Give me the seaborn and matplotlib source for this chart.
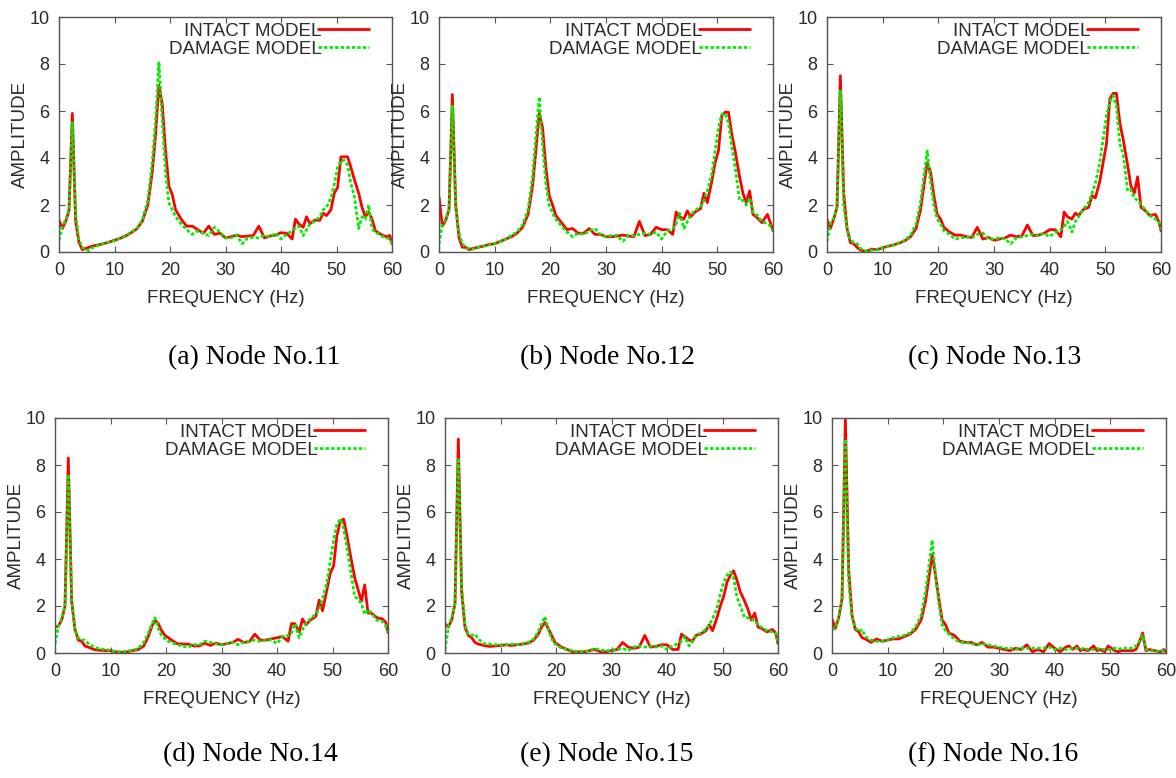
import matplotlib
matplotlib.use("Agg")
import matplotlib.pyplot as plt
import seaborn as sns
import pandas as pd

# Shared frequency grid (Hz)
freq = [0, 0.6, 1.2, 1.8, 2.4, 3.0, 3.6, 4.2, 4.8, 5.4,
        6, 7, 8, 9, 10, 11, 12, 13, 14, 15, 16,
        16.8, 17.4, 18.0, 18.6, 19.2, 19.8, 20.4,
        21, 22, 23, 24, 25, 26, 27, 28, 29, 30, 31, 32, 33, 34, 35, 36, 37, 38, 39, 40, 41, 42,
        42.6, 43.2, 44, 44.6, 45.2, 46, 47, 47.6, 48.2, 49, 49.6, 50.2, 50.8, 51.4, 52.0, 52.6, 53.2,
        54, 54.6, 55.2, 55.8, 56.4, 57, 58, 59, 59.6, 60]

# Node No.11
intact_11 = [1.35, 1.0, 1.3, 1.75, 5.9, 1.3, 0.4, 0.1, 0.15, 0.2,
             0.25, 0.3, 0.35, 0.42, 0.5, 0.58, 0.68, 0.82, 0.98, 1.3, 2.0,
             3.4, 5.0, 7.1, 6.3, 4.3, 2.8, 2.45,
             1.8, 1.4, 1.1, 1.1, 0.95, 0.8, 1.1, 0.75, 0.8, 0.6, 0.65, 0.72, 0.65, 0.68, 0.7, 1.1, 0.6, 0.68, 0.72, 0.82, 0.8, 0.55,
             1.4, 1.2, 1.05, 1.5, 1.2, 1.35, 1.35, 1.65, 1.55, 1.8, 2.5, 2.75, 4.05, 4.05, 4.05, 3.6, 3.1,
             2.5, 1.9, 1.5, 1.7, 1.4, 0.9, 0.75, 0.65, 0.7, 0.35]
damage_11 = [0.5, 1.1, 1.35, 1.8, 5.5, 1.6, 0.5, 0.2, 0.1, 0.05,
             0.18, 0.28, 0.35, 0.42, 0.48, 0.6, 0.7, 0.85, 1.0, 1.35, 2.2,
             3.8, 5.6, 8.1, 5.6, 3.4, 2.1, 1.8,
             1.5, 1.2, 0.95, 0.75, 0.9, 0.8, 0.7, 1.05, 0.85, 0.6, 0.6, 0.72, 0.35, 0.6, 0.62, 0.6, 0.7, 0.65, 0.8, 0.55, 0.75, 0.9,
             1.0, 1.1, 0.7, 0.95, 1.2, 1.3, 1.5, 1.8, 1.9, 2.3, 2.9, 3.6, 3.9, 3.9, 3.7, 2.9, 2.4,
             1.0, 1.5, 1.4, 2.0, 1.0, 0.85, 0.7, 0.6, 0.55, 0.35]

# Node No.12
intact_12 = [2.35, 1.1, 1.35, 1.8, 6.7, 2.0, 0.6, 0.2, 0.2, 0.1,
             0.15, 0.2, 0.25, 0.32, 0.35, 0.45, 0.55, 0.65, 0.8, 1.05, 1.6,
             2.8, 4.3, 5.9, 5.3, 3.6, 2.4, 2.0,
             1.55, 1.25, 0.95, 1.0, 0.8, 0.8, 1.0, 0.75, 0.75, 0.65, 0.65, 0.68, 0.72, 0.68, 0.65, 1.3, 0.7, 0.75, 1.05, 0.95, 0.95, 0.75,
             1.7, 1.5, 1.4, 1.75, 1.5, 1.7, 1.85, 2.5, 2.1, 3.0, 3.8, 4.3, 5.8, 5.95, 5.95, 5.0, 4.3,
             3.2, 2.5, 2.1, 2.6, 1.6, 1.5, 1.25, 1.6, 1.2, 0.9]
damage_12 = [0.35, 1.2, 1.4, 1.8, 6.2, 1.9, 0.8, 0.35, 0.2, 0.15,
             0.12, 0.2, 0.25, 0.3, 0.35, 0.45, 0.55, 0.7, 0.85, 1.15, 1.8,
             3.2, 4.9, 6.6, 4.6, 2.9, 2.0, 1.65,
             1.4, 1.1, 0.85, 0.65, 0.8, 0.75, 0.9, 1.0, 0.75, 0.65, 0.7, 0.7, 0.45, 0.7, 0.7, 0.75, 0.8, 0.75, 0.85, 0.55, 0.9, 1.0,
             1.2, 1.65, 1.0, 1.3, 1.6, 1.75, 1.95, 2.2, 2.6, 3.3, 4.3, 5.3, 5.85, 5.9, 5.5, 4.5, 3.6,
             2.2, 2.2, 2.0, 2.3, 1.7, 1.6, 1.3, 1.2, 1.1, 0.9]

# Node No.13
intact_13 = [1.4, 1.0, 1.4, 1.9, 7.5, 2.5, 1.0, 0.4, 0.35, 0.2,
             0.08, 0.02, 0.12, 0.1, 0.18, 0.25, 0.3, 0.38, 0.48, 0.65, 1.0,
             1.8, 2.8, 3.8, 3.4, 2.4, 1.6, 1.4,
             1.05, 0.85, 0.72, 0.72, 0.65, 0.62, 1.05, 0.55, 0.62, 0.5, 0.55, 0.6, 0.72, 0.65, 0.68, 1.15, 0.7, 0.72, 0.8, 0.95, 0.95, 0.65,
             1.7, 1.5, 1.4, 1.65, 1.55, 1.8, 1.9, 2.4, 2.3, 3.0, 3.8, 4.6, 6.5, 6.75, 6.75, 5.5, 4.8,
             3.7, 2.8, 2.5, 3.2, 1.9, 1.8, 1.55, 1.6, 1.3, 0.9]
damage_13 = [0.45, 1.2, 1.45, 1.9, 6.9, 2.0, 1.0, 0.5, 0.4, 0.35,
             0.15, 0.05, 0.08, 0.1, 0.18, 0.25, 0.3, 0.4, 0.5, 0.7, 1.2,
             2.1, 3.2, 4.3, 3.0, 2.0, 1.4, 1.2,
             0.9, 0.75, 0.55, 0.6, 0.65, 0.6, 0.75, 0.8, 0.55, 0.55, 0.6, 0.55, 0.35, 0.6, 0.65, 0.7, 0.75, 0.7, 0.8, 0.65, 0.85, 0.95,
             1.1, 1.3, 0.85, 1.3, 1.5, 1.8, 2.1, 2.5, 2.9, 3.8, 4.8, 5.8, 6.4, 6.65, 6.2, 4.6, 4.2,
             2.6, 2.65, 2.3, 2.2, 2.0, 1.85, 1.55, 1.4, 1.3, 0.95]

# Node No.14
intact_14 = [1.1, 1.15, 1.4, 2.0, 8.3, 2.2, 1.0, 0.55, 0.5, 0.3,
             0.25, 0.15, 0.12, 0.1, 0.1, 0.05, 0.03, 0.05, 0.1, 0.15, 0.3,
             0.7, 1.1, 1.4, 1.25, 0.95, 0.75, 0.65,
             0.55, 0.4, 0.38, 0.38, 0.3, 0.3, 0.42, 0.32, 0.42, 0.35, 0.4, 0.45, 0.58, 0.45, 0.48, 0.8, 0.55, 0.55, 0.6, 0.65, 0.7, 0.5,
             1.25, 1.25, 0.9, 1.45, 1.2, 1.4, 1.55, 2.25, 1.8, 2.7, 3.4, 3.7, 5.0, 5.6, 5.7, 5.0, 4.2,
             3.2, 2.7, 2.2, 2.9, 1.7, 1.7, 1.5, 1.45, 1.3, 0.87]
damage_14 = [0.4, 1.1, 1.5, 2.0, 7.6, 2.3, 1.0, 0.65, 0.55, 0.55,
             0.4, 0.25, 0.18, 0.15, 0.12, 0.05, 0.05, 0.08, 0.12, 0.2, 0.45,
             0.85, 1.2, 1.5, 1.05, 0.75, 0.6, 0.5,
             0.45, 0.35, 0.3, 0.25, 0.35, 0.35, 0.5, 0.45, 0.38, 0.35, 0.4, 0.45, 0.35, 0.45, 0.5, 0.55, 0.5, 0.55, 0.55, 0.4, 0.7, 0.75,
             0.85, 1.25, 0.65, 1.0, 1.25, 1.45, 1.65, 1.85, 2.3, 3.0, 3.9, 4.8, 5.5, 5.7, 5.3, 4.5, 3.6,
             2.4, 2.3, 2.1, 1.65, 1.85, 1.7, 1.4, 1.35, 1.15, 0.9]

# Node No.15
intact_15 = [1.25, 1.1, 1.4, 2.1, 9.1, 2.6, 1.1, 0.75, 0.65, 0.45,
             0.38, 0.32, 0.28, 0.3, 0.32, 0.35, 0.32, 0.35, 0.38, 0.42, 0.55,
             0.8, 1.1, 1.3, 1.05, 0.75, 0.45, 0.35,
             0.25, 0.15, 0.05, 0.05, 0.05, 0.1, 0.15, 0.05, 0.05, 0.1, 0.15, 0.45, 0.25, 0.2, 0.25, 0.75, 0.25, 0.28, 0.35, 0.35, 0.15, 0.15,
             0.8, 0.7, 0.55, 0.5, 0.75, 0.8, 0.95, 1.2, 0.95, 1.5, 2.0, 2.4, 3.0, 3.3, 3.5, 3.1, 2.6,
             2.2, 1.85, 1.4, 1.7, 1.1, 1.05, 0.9, 1.0, 0.85, 0.4]
damage_15 = [0.15, 1.1, 1.5, 2.1, 8.3, 2.8, 1.2, 0.8, 0.75, 0.8,
             0.6, 0.4, 0.38, 0.35, 0.35, 0.35, 0.38, 0.35, 0.4, 0.45, 0.6,
             0.9, 1.25, 1.55, 1.0, 0.6, 0.4, 0.3,
             0.2, 0.15, 0.1, 0.05, 0.05, 0.1, 0.2, 0.12, 0.1, 0.1, 0.15, 0.2, 0.1, 0.25, 0.3, 0.25, 0.3, 0.25, 0.3, 0.15, 0.3, 0.4,
             0.5, 0.7, 0.3, 0.5, 0.7, 0.85, 1.0, 1.2, 1.45, 1.9, 2.5, 3.0, 3.3, 3.45, 3.2, 2.4, 2.0,
             1.5, 1.5, 1.45, 1.35, 1.2, 1.1, 0.95, 0.9, 0.85, 0.4]

# Node No.16
intact_16 = [1.45, 1.05, 1.5, 2.3, 10.0, 3.5, 1.6, 1.0, 0.9, 0.65,
             0.6, 0.45, 0.6, 0.5, 0.55, 0.6, 0.6, 0.7, 0.8, 1.0, 1.4,
             2.2, 3.2, 4.2, 3.3, 2.3, 1.4, 1.2,
             0.85, 0.75, 0.5, 0.45, 0.45, 0.35, 0.45, 0.25, 0.25, 0.2, 0.15, 0.1, 0.2, 0.15, 0.35, 0.05, 0.15, 0.05, 0.4, 0.2, 0.05, 0.25,
             0.3, 0.15, 0.3, 0.1, 0.15, 0.1, 0.3, 0.1, 0.15, 0.05, 0.3, 0.2, 0.1, 0.05, 0.1, 0.1, 0.1,
             0.1, 0.15, 0.45, 0.85, 0.1, 0.15, 0.1, 0.05, 0.15, 0.05]
damage_16 = [1.0, 1.05, 1.5, 2.2, 9.1, 3.0, 1.5, 1.1, 0.9, 1.0,
             0.7, 0.55, 0.5, 0.5, 0.55, 0.65, 0.7, 0.75, 0.85, 1.1, 1.6,
             2.6, 3.7, 4.8, 3.3, 2.1, 1.2, 0.95,
             0.8, 0.6, 0.45, 0.45, 0.4, 0.35, 0.4, 0.35, 0.3, 0.25, 0.2, 0.2, 0.15, 0.2, 0.2, 0.2, 0.2, 0.2, 0.25, 0.15, 0.2, 0.15,
             0.2, 0.2, 0.2, 0.15, 0.2, 0.15, 0.15, 0.2, 0.15, 0.15, 0.15, 0.15, 0.2, 0.15, 0.2, 0.2, 0.2,
             0.2, 0.3, 0.5, 0.75, 0.15, 0.1, 0.1, 0.05, 0.1, 0.05]

captions = ["(a) Node No.11", "(b) Node No.12", "(c) Node No.13",
            "(d) Node No.14", "(e) Node No.15", "(f) Node No.16"]
intact = [intact_11, intact_12, intact_13, intact_14, intact_15, intact_16]
damage = [damage_11, damage_12, damage_13, damage_14, damage_15, damage_16]

sns.set_style("ticks")
plt.rcParams["font.family"] = ["Liberation Sans", "DejaVu Sans"]
TXT = "#2a2a2a"

fig = plt.figure(figsize=(11.76, 7.78), dpi=100)
W, H = 1176.0, 778.0

# panel boxes in pixels: (left, top, right, bottom)
boxes = [(59, 17, 392, 252), (439, 17, 773, 252), (827, 17, 1161, 252),
         (55, 418, 388, 653), (445, 418, 778, 653), (832, 418, 1166, 653)]
cap_pos = [(254, 358), (607, 358), (995, 358), (250, 755), (607, 755), (993, 755)]

for i, (l, t, r, b) in enumerate(boxes):
    ax = fig.add_axes([l / W, 1 - b / H, (r - l) / W, (b - t) / H])
    df = pd.DataFrame({"freq": freq, "intact": intact[i], "damage": damage[i]})
    sns.lineplot(data=df, x="freq", y="intact", ax=ax, color="#ff0000",
                 lw=2.0, label="INTACT MODEL", estimator=None)
    sns.lineplot(data=df, x="freq", y="damage", ax=ax, color="#00ee00",
                 lw=2.0, linestyle=(0, (1.2, 0.8)), label="DAMAGE MODEL", estimator=None)
    ax.set_xlim(0, 60)
    ax.set_ylim(0, 10)
    ax.set_xticks(range(0, 61, 10))
    ax.set_yticks(range(0, 11, 2))
    ax.tick_params(direction="in", top=True, right=True, length=4, width=0.8,
                   color="#555555", labelsize=13, labelcolor=TXT, pad=7)
    for s in ax.spines.values():
        s.set_visible(True)
        s.set_color("#555555")
        s.set_linewidth(1.0)
    ax.set_xlabel("FREQUENCY (Hz)", fontsize=13.5, color=TXT, labelpad=8)
    ax.set_ylabel("AMPLITUDE", fontsize=13.5, color=TXT, labelpad=0)
    leg = ax.legend(loc="upper right", markerfirst=False, frameon=False,
                    fontsize=13.5, handlelength=2.7, handletextpad=-0.15,
                    labelspacing=0.05, borderaxespad=0.2,
                    bbox_to_anchor=(0.965, 1.025))
    for txt in leg.get_texts():
        txt.set_color(TXT)
    cx, cy = cap_pos[i]
    fig.text(cx / W, 1 - cy / H, captions[i], ha="center", va="center",
             fontsize=20, family=["Liberation Serif", "DejaVu Serif"], color="black")

fig.savefig("out.png", dpi=100)
